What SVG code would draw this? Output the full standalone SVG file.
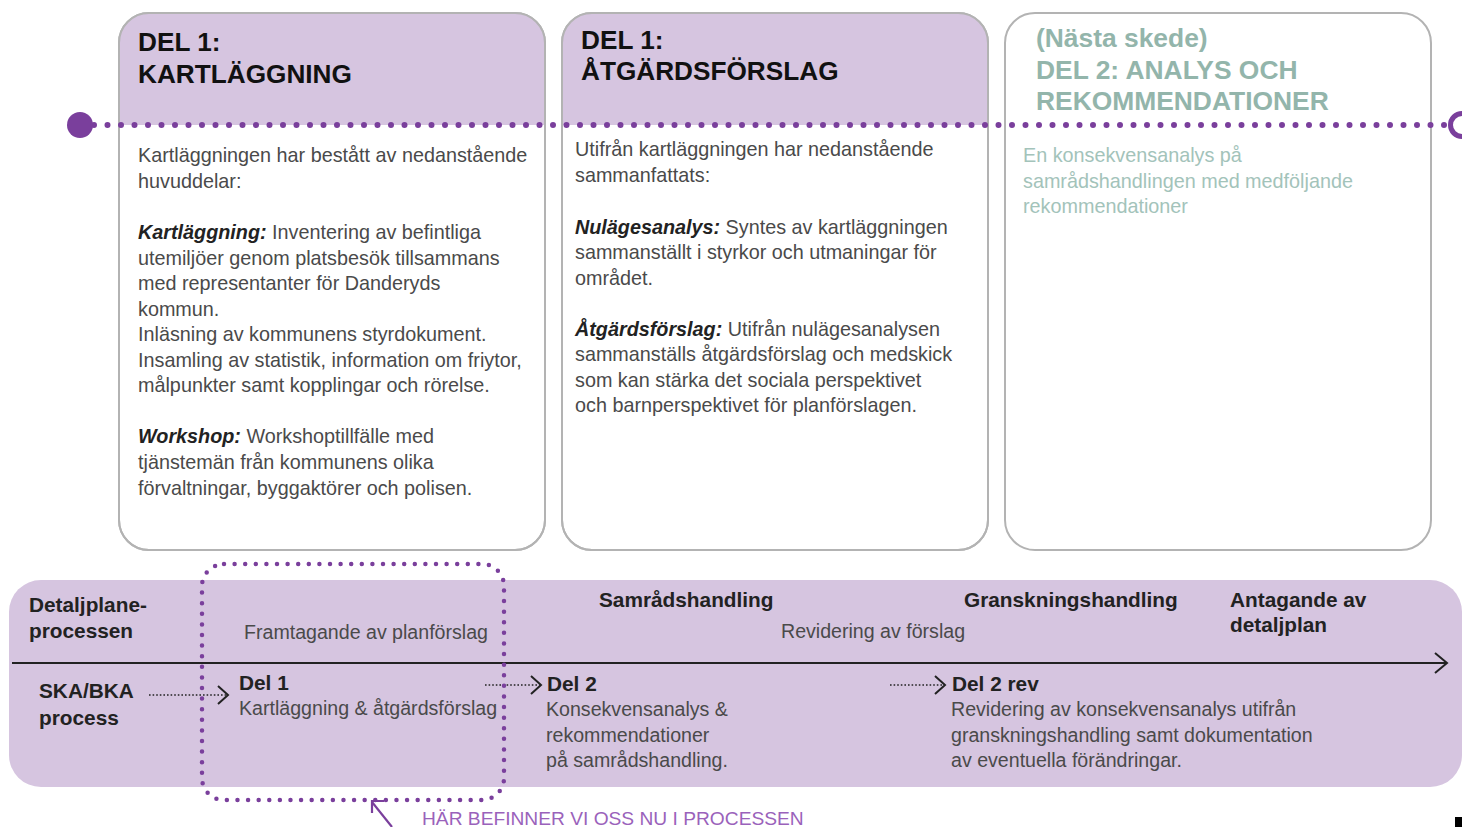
<svg xmlns="http://www.w3.org/2000/svg" width="1462" height="827" viewBox="0 0 1462 827">
<style>
.card{fill:#ffffff;stroke:#b3b3b3;stroke-width:2}
.hdr{fill:#d6c5e0}
.title{font-family:"Liberation Sans",Arial,sans-serif;font-weight:bold;font-size:26.2px;fill:#111111}
.title3{font-family:"Liberation Sans",Arial,sans-serif;font-weight:bold;font-size:26.4px;fill:#93b5ab}
.body{font-family:"Liberation Sans",Arial,sans-serif;font-size:19.8px;fill:#4a4a4a}
.body3{font-family:"Liberation Sans",Arial,sans-serif;font-size:19.8px;fill:#a3c3ba}
.bi{font-weight:bold;font-style:italic;fill:#222222}
.bold{font-family:"Liberation Sans",Arial,sans-serif;font-weight:bold;font-size:20.8px;fill:#222222}
.reg{font-family:"Liberation Sans",Arial,sans-serif;font-size:19.6px;fill:#4a4a4a}
.dots{fill:none;stroke:#7a3f9c;stroke-linecap:round}
.blk{fill:none;stroke:#222222}
</style>
<defs>
<path id="cardshape" d="M30,0 H396 A30,30 0 0 1 426,30 V507 A30,30 0 0 1 396,537 H30 A30,30 0 0 1 0,507 V30 A30,30 0 0 1 30,0 Z"/>
<path id="hdrshape" d="M30,0 H396 A30,30 0 0 1 426,30 V112 H0 V30 A30,30 0 0 1 30,0 Z"/>
</defs>

<g id="card1" transform="translate(119,13)">
<use href="#cardshape" class="card"/>
<use href="#hdrshape" class="hdr"/>
<use href="#cardshape" fill="none" stroke="#b3b3b3" stroke-width="2"/>
</g>
<g id="card2" transform="translate(562,13)">
<use href="#cardshape" class="card"/>
<use href="#hdrshape" class="hdr"/>
<use href="#cardshape" fill="none" stroke="#b3b3b3" stroke-width="2"/>
</g>
<g id="card3" transform="translate(1005,13)">
<use href="#cardshape" class="card"/>
</g>

<g id="timeline-top">
<line x1="94" y1="125" x2="1446" y2="125" class="dots" stroke-width="6" stroke-dasharray="0 13.5"/>
<circle cx="80" cy="125" r="13" fill="#7a3f9c"/>
<circle cx="1462" cy="125" r="11.5" fill="none" stroke="#7a3f9c" stroke-width="5"/>
</g>

<g id="card1-text">
<text x="138" y="51" class="title">DEL 1:</text>
<text x="138" y="83" class="title">KARTLÄGGNING</text>
<text class="body">
<tspan x="138" y="162">Kartläggningen har bestått av nedanstående</tspan>
<tspan x="138" y="188">huvuddelar:</tspan>
<tspan x="138" y="239"><tspan class="bi">Kartläggning:</tspan> Inventering av befintliga</tspan>
<tspan x="138" y="265">utemiljöer genom platsbesök tillsammans</tspan>
<tspan x="138" y="290">med representanter för Danderyds</tspan>
<tspan x="138" y="316">kommun.</tspan>
<tspan x="138" y="341">Inläsning av kommunens styrdokument.</tspan>
<tspan x="138" y="367">Insamling av statistik, information om friytor,</tspan>
<tspan x="138" y="392">målpunkter samt kopplingar och rörelse.</tspan>
<tspan x="138" y="443"><tspan class="bi">Workshop:</tspan> Workshoptillfälle med</tspan>
<tspan x="138" y="469">tjänstemän från kommunens olika</tspan>
<tspan x="138" y="495">förvaltningar, byggaktörer och polisen.</tspan>
</text>
</g>

<g id="card2-text">
<text x="581" y="49" class="title">DEL 1:</text>
<text x="581" y="80" class="title">ÅTGÄRDSFÖRSLAG</text>
<text class="body">
<tspan x="575" y="156">Utifrån kartläggningen har nedanstående</tspan>
<tspan x="575" y="182">sammanfattats:</tspan>
<tspan x="575" y="234"><tspan class="bi">Nulägesanalys:</tspan> Syntes av kartläggningen</tspan>
<tspan x="575" y="259">sammanställt i styrkor och utmaningar för</tspan>
<tspan x="575" y="285">området.</tspan>
<tspan x="575" y="336"><tspan class="bi">Åtgärdsförslag:</tspan> Utifrån nulägesanalysen</tspan>
<tspan x="575" y="361">sammanställs åtgärdsförslag och medskick</tspan>
<tspan x="575" y="387">som kan stärka det sociala perspektivet</tspan>
<tspan x="575" y="412">och barnperspektivet för planförslagen.</tspan>
</text>
</g>

<g id="card3-text">
<text x="1036" y="47" class="title3">(Nästa skede)</text>
<text x="1036" y="79" class="title3">DEL 2: ANALYS OCH</text>
<text x="1036" y="110" class="title3">REKOMMENDATIONER</text>
<text class="body3">
<tspan x="1023" y="162">En konsekvensanalys på</tspan>
<tspan x="1023" y="188">samrådshandlingen med medföljande</tspan>
<tspan x="1023" y="213">rekommendationer</tspan>
</text>
</g>

<g id="process-band">
<rect x="9" y="580" width="1453" height="207" rx="32" fill="#d6c5e0"/>
</g>

<g id="connectors">
<line x1="12" y1="663" x2="1446" y2="663" stroke="#222222" stroke-width="2"/>
<polyline points="1435,653 1447,663 1435,673" class="blk" stroke-width="2"/>
<line x1="149" y1="695" x2="226" y2="695" class="blk" stroke-width="1.6" stroke-dasharray="1.6 2"/>
<polyline points="218,686 228,695 218,704" class="blk" stroke-width="2"/>
<line x1="485" y1="685" x2="540" y2="685" class="blk" stroke-width="1.6" stroke-dasharray="1.6 2"/>
<polyline points="531,676 541,685 531,694" class="blk" stroke-width="2"/>
<line x1="890" y1="685" x2="944" y2="685" class="blk" stroke-width="1.6" stroke-dasharray="1.6 2"/>
<polyline points="935,676 945,685 935,694" class="blk" stroke-width="2"/>
</g>

<g id="band-text">
<text class="bold"><tspan x="29" y="612">Detaljplane-</tspan><tspan x="29" y="638">processen</tspan></text>
<text class="bold"><tspan x="39" y="698">SKA/BKA</tspan><tspan x="39" y="725">process</tspan></text>
<text x="244" y="639" class="reg">Framtagande av planförslag</text>
<text x="599" y="607" class="bold">Samrådshandling</text>
<text x="781" y="638" class="reg">Revidering av förslag</text>
<text x="964" y="607" class="bold">Granskningshandling</text>
<text class="bold"><tspan x="1230" y="607">Antagande av</tspan><tspan x="1230" y="632">detaljplan</tspan></text>
</g>

<g id="del1">
<text x="239" y="690" class="bold">Del 1</text>
<text x="239" y="715" class="reg">Kartläggning &amp; åtgärdsförslag</text>
</g>
<g id="del2">
<text x="547" y="691" class="bold">Del 2</text>
<text class="reg"><tspan x="546" y="716">Konsekvensanalys &amp;</tspan><tspan x="546" y="742">rekommendationer</tspan><tspan x="546" y="767">på samrådshandling.</tspan></text>
</g>
<g id="del2rev">
<text x="952" y="691" class="bold">Del 2 rev</text>
<text class="reg"><tspan x="951" y="716">Revidering av konsekvensanalys utifrån</tspan><tspan x="951" y="742">granskningshandling samt dokumentation</tspan><tspan x="951" y="767">av eventuella förändringar.</tspan></text>
</g>

<g id="current-marker">
<rect x="202" y="564" width="302" height="236" rx="22" class="dots" stroke-width="4.5" stroke-dasharray="0 10.6"/>
<line x1="392" y1="827" x2="372" y2="802" stroke="#7a3f9c" stroke-width="2.2"/>
<polyline points="384,801 372,801 372,813" fill="none" stroke="#7a3f9c" stroke-width="2.2"/>
<text x="422" y="825" style="font-family:'Liberation Sans',Arial,sans-serif;font-size:19.2px;fill:#9a62bb">HÄR BEFINNER VI OSS NU I PROCESSEN</text>
</g>

<rect x="1455" y="817" width="7" height="10" fill="#000000"/>
</svg>
